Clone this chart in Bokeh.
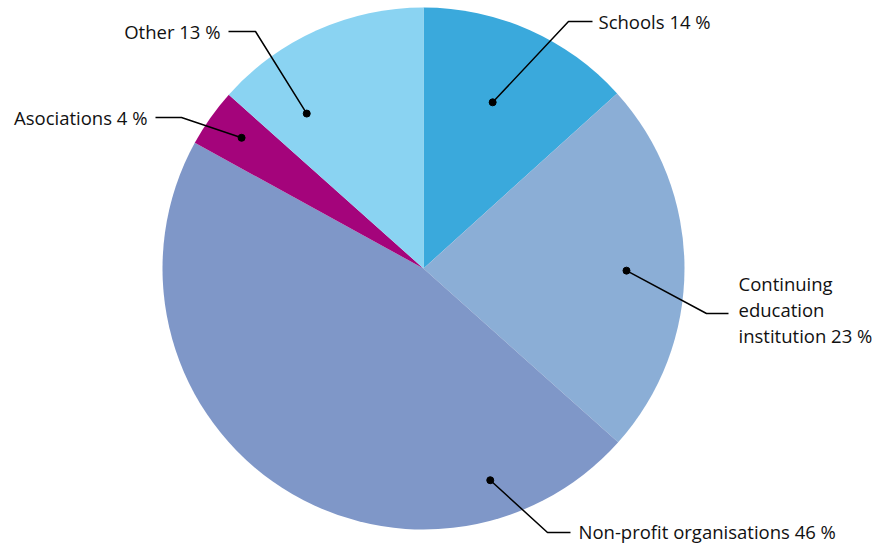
import numpy as np
from bokeh.plotting import figure
from bokeh.models import ColumnDataSource
from bokeh.core.properties import value
from bokeh.embed import file_html
from bokeh.resources import INLINE

# ---- data ----
categories = ["Schools", "Continuing\neducation\ninstitution", "Non-profit organisations", "Asociations", "Other"]
slice_values = [13.3, 23.3, 46.4, 3.6, 13.4]   # slice sizes as drawn
label_pct = [14, 23, 46, 4, 13]                 # percentages printed in labels
colors = ["#3AA9DC", "#8BAED6", "#7F97C8", "#A4047B", "#8AD3F2"]

# ---- layout (page pixels) ----
W, H = 883, 546
def dx(px):
    return px
def dy(py):
    return H - py

cx, cy, R = dx(423), dy(268), 261
# leader dot position inside each slice: angle (deg, math) and radius
dot_ang = [67.4, -0.6, -72.5, 144.3, 127.0]
dot_rad = [180, 203, 222, 224, 194]
# elbow and end of horizontal segment (page px)
elbow = [(568, 21), (706, 313), (547, 532), (181, 117), (255, 31)]
hend = [(592, 21), (728, 313), (570, 532), (155, 117), (228, 31)]
lab_pos = [(598, 21), (738, 309), (578, 531), (147, 117), (220, 31)]
lab_align = ["left", "left", "left", "right", "right"]

p = figure(width=W, height=H, x_range=(0, W), y_range=(0, H),
           output_backend="svg", toolbar_location=None, min_border=0)
p.axis.visible = False
p.grid.visible = False
p.outline_line_color = None

frac = np.array(slice_values) / sum(slice_values)
cum = np.concatenate([[0], np.cumsum(frac)])
start = np.pi / 2 - cum[:-1] * 2 * np.pi
end = np.pi / 2 - cum[1:] * 2 * np.pi

src = ColumnDataSource(dict(start=start, end=end, color=colors))
p.wedge(x=cx, y=cy, radius=R, start_angle="start", end_angle="end",
        direction="clock", fill_color="color", line_color=None, source=src)

labels = [f"{c} {s} %" for c, s in zip(categories, label_pct)]
xs, ys, dxs, dys = [], [], [], []
for a, r, e, h in zip(dot_ang, dot_rad, elbow, hend):
    px = cx + r * np.cos(np.radians(a))
    py = cy + r * np.sin(np.radians(a))
    dxs.append(px); dys.append(py)
    xs.append([px, dx(e[0]), dx(h[0])])
    ys.append([py, dy(e[1]), dy(h[1])])
p.multi_line(xs, ys, line_color="black", line_width=1.5)
p.scatter(dxs, dys, size=7, color="black")

for lab, pos, al in zip(labels, lab_pos, lab_align):
    p.text(x=[dx(pos[0])], y=[dy(pos[1])], text=[lab], text_align=al,
           text_baseline="middle", text_font=value("Open Sans"),
           text_font_size="18.5px", text_color="#111111", text_line_height=1.03)

open("out.html", "w").write(file_html(p, INLINE))
